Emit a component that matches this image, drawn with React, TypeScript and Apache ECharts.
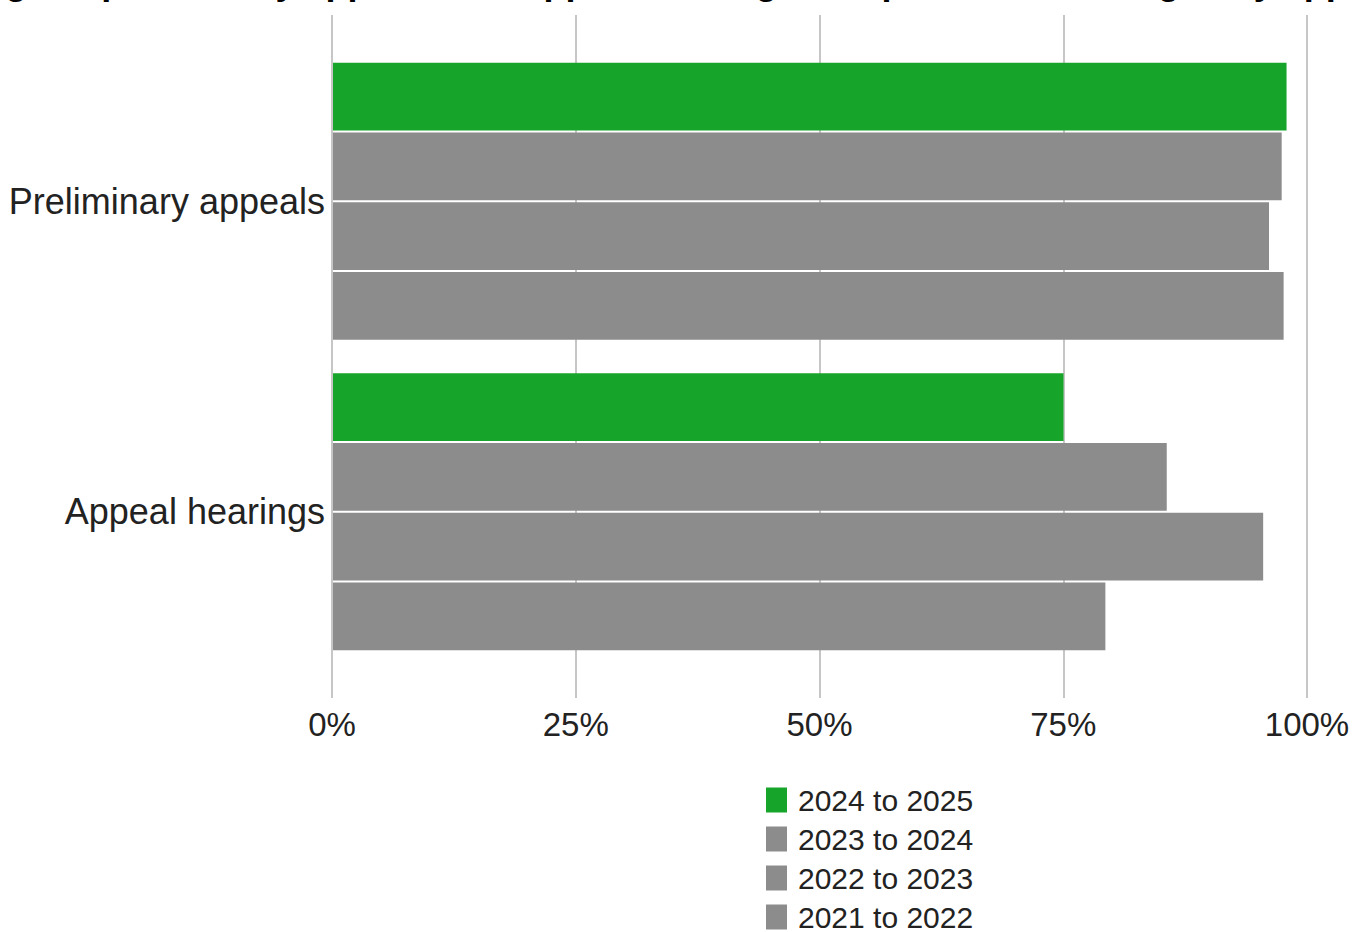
import React, { useEffect, useRef } from "react";
import * as echarts from "echarts";

const titleText =
  "Percentage of preliminary appeals and appeal hearings completed within target, by appeal stage";
const categories = ["Preliminary appeals", "Appeal hearings"];
const seriesNames = ["2024 to 2025", "2023 to 2024", "2022 to 2023", "2021 to 2022"];
const values2024to2025 = [97.9, 75.0];
const values2023to2024 = [97.4, 85.6];
const values2022to2023 = [96.1, 95.5];
const values2021to2022 = [97.6, 79.3];
const seriesValues = [values2024to2025, values2023to2024, values2022to2023, values2021to2022];
const seriesColors = ["#17a42b", "#8c8c8c", "#8c8c8c", "#8c8c8c"];

const FONT = "'Liberation Sans', Arial, Helvetica, sans-serif";

export default function App() {
  const ref = useRef<HTMLDivElement>(null);

  useEffect(() => {
    document.body.style.margin = "0";
    if (!ref.current) return;
    const chart = echarts.init(ref.current, undefined, { renderer: "svg" });
    const option: any = {
      animation: false,
      backgroundColor: "#ffffff",
      textStyle: { fontFamily: FONT },
      title: {
        text: titleText,
        left: "center",
        top: -42,
        textStyle: { fontSize: 36, fontWeight: "bold", color: "#000", fontFamily: FONT },
      },
      legend: {
        orient: "vertical",
        left: 766,
        top: 785,
        height: 147,
        padding: 0,
        itemWidth: 21,
        itemHeight: 25,
        itemGap: 9,
        icon: "rect",
        data: seriesNames,
        textStyle: {
          fontSize: 30,
          color: "#222",
          fontFamily: FONT,
          padding: [0, 0, 0, 6],
        },
      },
      grid: [
        { left: 332, right: 48, top: 15, height: 683 },
        { left: 333, right: 48, top: 46, height: 621 },
      ],
      xAxis: [
        {
          gridIndex: 0,
          type: "value",
          min: 0,
          max: 100,
          interval: 25,
          splitLine: { show: true, lineStyle: { color: "#c6c6c6", width: 2 } },
          axisLine: { show: false },
          axisTick: { show: false },
          axisLabel: {
            formatter: "{value}%",
            fontSize: 33,
            color: "#222",
            margin: 10,
            fontFamily: FONT,
          },
        },
        { gridIndex: 1, type: "value", min: 0, max: 100, show: false },
      ],
      yAxis: [
        { gridIndex: 0, type: "category", data: categories, show: false },
        {
          gridIndex: 1,
          type: "category",
          data: categories,
          inverse: true,
          axisLine: { show: false },
          axisTick: { show: false },
          axisLabel: { fontSize: 36, color: "#222", margin: 8, fontFamily: FONT },
        },
      ],
      series: seriesNames.map((name, i) => ({
        name,
        type: "bar",
        xAxisIndex: 1,
        yAxisIndex: 1,
        data: seriesValues[i],
        barGap: "3%",
        barCategoryGap: "10.8%",
        itemStyle: { color: seriesColors[i] },
      })),
    };
    chart.setOption(option);
    return () => chart.dispose();
  }, []);

  return <div ref={ref} style={{ width: 1355, height: 932 }} />;
}
